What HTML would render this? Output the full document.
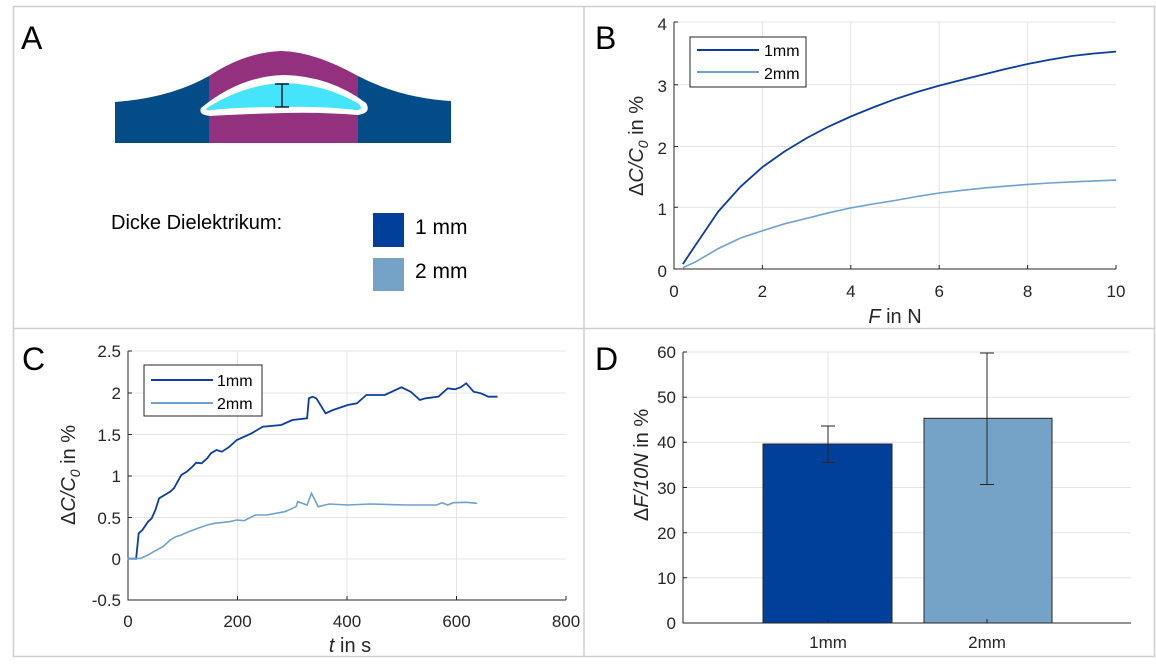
<!DOCTYPE html>
<html><head><meta charset="utf-8"><style>
html,body{margin:0;padding:0;background:#fff;}
svg text{font-family:"Liberation Sans",Arial,sans-serif;}
</style></head><body>
<svg width="1156" height="659" viewBox="0 0 1156 659" xmlns="http://www.w3.org/2000/svg">
<rect width="1156" height="659" fill="#fff"/>
<rect x="13.5" y="6.5" width="1141" height="650" fill="none" stroke="#cfcfcf" stroke-width="1.5"/>
<line x1="584" y1="6" x2="584" y2="657" stroke="#cfcfcf" stroke-width="1.5"/>
<line x1="13" y1="328.5" x2="1155" y2="328.5" stroke="#cfcfcf" stroke-width="1.5"/>

<!-- Panel A -->
<text x="21" y="49" font-size="32" fill="#000">A</text>
<path d="M115,102 Q170,98 209,76 L209,143 L115,143 Z" fill="#034c87"/>
<path d="M358,76 Q400,98 451,101 L451,143 L358,143 Z" fill="#034c87"/>
<path d="M209,76 Q245,52 282,51 Q315,52 358,76 L358,143 L209,143 Z" fill="#94317e"/>
<path d="M201,108 Q240,76 284,75 Q330,76 366,103 Q372,113 358,115 Q320,112 284,113 Q240,114 210,116 Q198,115 201,108 Z" fill="#fff"/>
<path d="M207,108 Q245,84 284,83 Q325,84 359,104 Q364,110 356,110 Q320,106 284,107 Q240,107 212,110 Q204,111 207,108 Z" fill="#45e4fb"/>
<g stroke="#000" stroke-width="1.3"><line x1="282" y1="84" x2="282" y2="107"/><line x1="275" y1="84" x2="289" y2="84"/><line x1="275" y1="107" x2="289" y2="107"/></g>
<text x="111" y="229" font-size="20" fill="#000">Dicke Dielektrikum:</text>
<rect x="373" y="213" width="31" height="34" fill="#003f9a"/>
<rect x="373" y="258" width="31" height="33" fill="#75a3c8"/>
<text x="415" y="234" font-size="21" fill="#000">1 mm</text>
<text x="415" y="278" font-size="21" fill="#000">2 mm</text>

<!-- Panel B -->
<text x="595" y="49" font-size="32" fill="#000">B</text>
<g stroke="#e4e4e4" stroke-width="1">
<line x1="762.4" y1="22" x2="762.4" y2="269"/><line x1="850.8" y1="22" x2="850.8" y2="269"/><line x1="939.2" y1="22" x2="939.2" y2="269"/><line x1="1027.6" y1="22" x2="1027.6" y2="269"/>
<line x1="674" y1="22" x2="1116" y2="22"/><line x1="674" y1="84.75" x2="1116" y2="84.75"/><line x1="674" y1="146.5" x2="1116" y2="146.5"/><line x1="674" y1="207.25" x2="1116" y2="207.25"/>
</g>
<g stroke="#262626" stroke-width="1" fill="none">
<path d="M674,22 V269 H1116"/>
<path d="M762.4,269v-4M850.8,269v-4M939.2,269v-4M1027.6,269v-4M1116,269v-4M674,207.25h4M674,146.5h4M674,84.75h4M674,22h4"/>
</g>
<g font-size="17" fill="#262626" text-anchor="end">
<text x="667" y="277">0</text><text x="667" y="215">1</text><text x="667" y="154">2</text><text x="667" y="92">3</text><text x="667" y="30">4</text>
</g>
<g font-size="17" fill="#262626" text-anchor="middle">
<text x="674" y="297">0</text><text x="762.4" y="297">2</text><text x="850.8" y="297">4</text><text x="939.2" y="297">6</text><text x="1027.6" y="297">8</text><text x="1116" y="297">10</text>
</g>
<text x="895" y="323" font-size="20" fill="#262626" text-anchor="middle"><tspan font-style="italic">F</tspan> in N</text>
<text transform="translate(643,146) rotate(-90)" font-size="20" fill="#262626" text-anchor="middle">Δ<tspan font-style="italic">C/C</tspan><tspan font-style="italic" font-size="14" dy="5">0</tspan><tspan dy="-5"> in %</tspan></text>
<polyline fill="none" stroke="#0a3ea5" stroke-width="1.8" points="682.8,264.1 696.1,244.3 718.2,211.6 740.3,186.9 762.4,167.1 784.5,151.5 806.6,138.1 828.7,126.5 850.8,116.5 872.9,107.5 895,99.2 917.1,92 939.2,85.6 961.3,80 983.4,74.5 1005.5,69 1027.6,64 1049.7,59.8 1071.8,56 1094,53.5 1116,51.6"/>
<polyline fill="none" stroke="#6ea1d2" stroke-width="1.6" points="682.8,267.8 696.1,261.6 718.2,248.6 740.3,238.1 762.4,230.7 784.5,223.8 806.6,218.4 828.7,212.8 850.8,207.9 872.9,204 895,200.5 917.1,196.5 939.2,193 961.3,190.4 983.4,188.1 1005.5,186.2 1027.6,184.4 1049.7,183 1071.8,181.9 1094,180.9 1116,180.1"/>
<rect x="690" y="37" width="116" height="50" fill="#fff" stroke="#262626" stroke-width="1"/>
<line x1="697" y1="50" x2="759" y2="50" stroke="#0a3ea5" stroke-width="2"/>
<line x1="697" y1="72" x2="759" y2="72" stroke="#6ea1d2" stroke-width="2"/>
<text x="764" y="56" font-size="16" fill="#000">1mm</text>
<text x="764" y="79" font-size="16" fill="#000">2mm</text>

<!-- Panel C -->
<text x="22" y="370" font-size="32" fill="#000">C</text>
<g stroke="#e4e4e4" stroke-width="1">
<line x1="237.5" y1="351" x2="237.5" y2="600"/><line x1="347" y1="351" x2="347" y2="600"/><line x1="456.5" y1="351" x2="456.5" y2="600"/>
<line x1="128" y1="351" x2="566" y2="351"/><line x1="128" y1="393" x2="566" y2="393"/><line x1="128" y1="434.5" x2="566" y2="434.5"/><line x1="128" y1="476" x2="566" y2="476"/><line x1="128" y1="517.5" x2="566" y2="517.5"/><line x1="128" y1="559" x2="566" y2="559"/>
</g>
<g stroke="#262626" stroke-width="1" fill="none">
<path d="M128,351 V600 H566"/>
<path d="M237.5,600v-4M347,600v-4M456.5,600v-4M566,600v-4M128,559h4M128,517.5h4M128,476h4M128,434.5h4M128,393h4M128,351h4"/>
</g>
<g font-size="17" fill="#262626" text-anchor="end">
<text x="121" y="606">-0.5</text><text x="121" y="565">0</text><text x="121" y="524">0.5</text><text x="121" y="482">1</text><text x="121" y="441">1.5</text><text x="121" y="399">2</text><text x="121" y="357">2.5</text>
</g>
<g font-size="17" fill="#262626" text-anchor="middle">
<text x="128" y="627">0</text><text x="237.5" y="627">200</text><text x="347" y="627">400</text><text x="456.5" y="627">600</text><text x="566" y="627">800</text>
</g>
<text x="350" y="652" font-size="20" fill="#262626" text-anchor="middle"><tspan font-style="italic">t</tspan> in s</text>
<text transform="translate(75,475) rotate(-90)" font-size="20" fill="#262626" text-anchor="middle">Δ<tspan font-style="italic">C/C</tspan><tspan font-style="italic" font-size="14" dy="5">0</tspan><tspan dy="-5"> in %</tspan></text>
<polyline fill="none" stroke="#0a3ea5" stroke-width="1.8" points="127.6,558.7 136.1,558.7 138.7,533.3 142.4,530 148,521.7 151.7,518.3 155.4,510 159.1,498.3 164.6,495 170.2,491.7 173.9,488.3 181.3,475 186.8,471.7 192.4,466.7 196.1,462.7 201.6,463.3 207.2,458.3 210.9,453.3 216.4,450 222,451.7 229.4,446.7 236.8,440 251.6,433.3 262.7,426.7 281.2,425 292.3,420 307.1,418.3 308.9,398.3 312.6,396.7 316.3,398.3 325.6,413.3 333,410 347.8,405 357,403.3 366.3,395 384.8,395 401.4,387.3 410.7,391.7 419.9,400 425.5,398.3 438.4,396.7 447.7,388.3 455,389.3 460.6,387.3 466.2,383.3 473.6,391.7 481,393.3 488.3,396.7 497.6,396.7"/>
<polyline fill="none" stroke="#6ea1d2" stroke-width="1.6" points="127.6,558.7 140.6,558.3 148,555 155.4,550.7 162.8,546.7 170.2,540 175.7,536.7 181.3,535 188.7,531.7 197.9,528.3 207.2,525 214.6,523.3 229.4,521.7 236.8,520 244.2,520.7 255.3,515 266.4,515 284.9,511.7 296,506.7 297.8,501.7 307.1,505 311.5,493.3 318.2,506.7 329.3,504 347.8,505 370,504 407,505 436.6,505 442.1,502.7 447.7,505 453.2,502.7 466.2,502.3 477.2,503.3"/>
<rect x="144" y="365" width="118" height="51" fill="#fff" stroke="#262626" stroke-width="1"/>
<line x1="151" y1="380" x2="213" y2="380" stroke="#0a3ea5" stroke-width="2"/>
<line x1="151" y1="403" x2="213" y2="403" stroke="#6ea1d2" stroke-width="2"/>
<text x="217" y="386" font-size="16" fill="#000">1mm</text>
<text x="217" y="409" font-size="16" fill="#000">2mm</text>

<!-- Panel D -->
<text x="595" y="370" font-size="32" fill="#000">D</text>
<g stroke="#e4e4e4" stroke-width="1">
<line x1="828" y1="352" x2="828" y2="623"/><line x1="987" y1="352" x2="987" y2="623"/>
<line x1="683" y1="352" x2="1131" y2="352"/><line x1="683" y1="397.2" x2="1131" y2="397.2"/><line x1="683" y1="442.3" x2="1131" y2="442.3"/><line x1="683" y1="487.5" x2="1131" y2="487.5"/><line x1="683" y1="532.7" x2="1131" y2="532.7"/><line x1="683" y1="577.8" x2="1131" y2="577.8"/>
</g>
<rect x="763" y="444" width="129" height="179" fill="#00409a" stroke="#262626" stroke-width="1"/>
<rect x="924" y="418.3" width="128" height="204.7" fill="#75a3c8" stroke="#262626" stroke-width="1"/>
<g stroke="#262626" stroke-width="1" fill="none">
<path d="M683,352 V623 H1131"/>
<path d="M828,623v-4M987,623v-4M683,577.8h4M683,532.7h4M683,487.5h4M683,442.3h4M683,397.2h4M683,352h4"/>
<path d="M828,426V462.5M821,426h14M821,462.5h14"/>
<path d="M987,353V484.5M980,353h14M980,484.5h14"/>
</g>
<g font-size="17" fill="#262626" text-anchor="end">
<text x="676" y="629">0</text><text x="676" y="584">10</text><text x="676" y="539">20</text><text x="676" y="494">30</text><text x="676" y="448">40</text><text x="676" y="403">50</text><text x="676" y="358">60</text>
</g>
<g font-size="17" fill="#262626" text-anchor="middle">
<text x="828" y="648">1mm</text><text x="987" y="648">2mm</text>
</g>
<text transform="translate(648,465) rotate(-90)" font-size="20" fill="#262626" text-anchor="middle">Δ<tspan font-style="italic">F/10N</tspan> in %</text>
</svg>
</body></html>
